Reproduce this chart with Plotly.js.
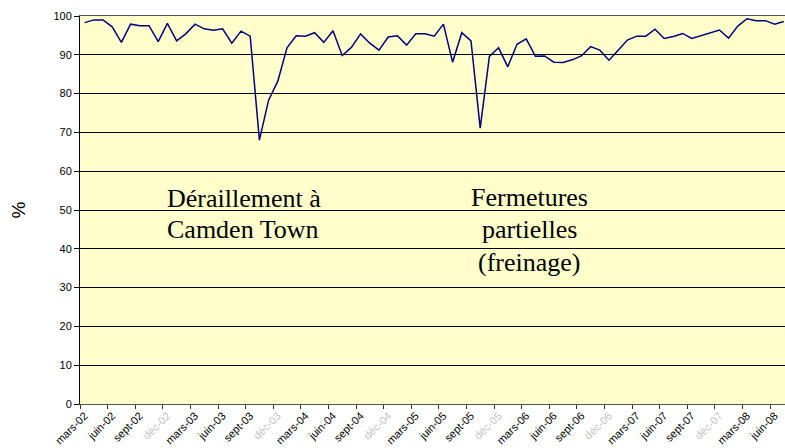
<!DOCTYPE html>
<html>
<head>
<meta charset="utf-8">
<script src="https://cdn.plot.ly/plotly-3.0.1.min.js"></script>
<style>html,body{margin:0;padding:0;background:#fff;overflow:hidden;}#chart{width:785px;height:448px;}</style>
</head>
<body>
<div id="chart"></div>
<script>
// Monthly categories (mars-02 .. juil-08, last visible)
const categories = [
  "mars-02","avr-02","mai-02","juin-02","juil-02","août-02","sept-02","oct-02","nov-02","déc-02","janv-03","févr-03",
  "mars-03","avr-03","mai-03","juin-03","juil-03","août-03","sept-03","oct-03","nov-03","déc-03","janv-04","févr-04",
  "mars-04","avr-04","mai-04","juin-04","juil-04","août-04","sept-04","oct-04","nov-04","déc-04","janv-05","févr-05",
  "mars-05","avr-05","mai-05","juin-05","juil-05","août-05","sept-05","oct-05","nov-05","déc-05","janv-06","févr-06",
  "mars-06","avr-06","mai-06","juin-06","juil-06","août-06","sept-06","oct-06","nov-06","déc-06","janv-07","févr-07",
  "mars-07","avr-07","mai-07","juin-07","juil-07","août-07","sept-07","oct-07","nov-07","déc-07","janv-08","févr-08",
  "mars-08","avr-08","mai-08","juin-08","juil-08"
];
// Percentage values
const values = [
  98.3, 99.0, 99.0, 97.2, 93.2, 97.9, 97.5, 97.5, 93.4, 98.1,
  93.6, 95.4, 97.9, 96.7, 96.3, 96.7, 93.0, 96.1, 94.8, 68.0,
  78.3, 83.2, 91.8, 94.9, 94.8, 95.7, 93.2, 96.2, 89.8, 91.9,
  95.4, 93.0, 91.2, 94.6, 94.9, 92.5, 95.4, 95.4, 94.8, 97.9,
  88.1, 95.7, 93.6, 71.1, 89.6, 91.8, 86.9, 92.7, 94.1, 89.6,
  89.7, 88.1, 88.0, 88.7, 89.7, 92.1, 91.2, 88.6, 91.2, 93.8,
  94.8, 94.8, 96.6, 94.2, 94.7, 95.5, 94.2, 94.9, 95.7, 96.4,
  94.3, 97.4, 99.3, 98.8, 98.8, 97.9, 98.6
];
// Tick labels shown every 3 months (déc labels are blurred in the source)
const tickLabels = ["mars-02","juin-02","sept-02","déc-02","mars-03","juin-03","sept-03","déc-03",
  "mars-04","juin-04","sept-04","déc-04","mars-05","juin-05","sept-05","déc-05",
  "mars-06","juin-06","sept-06","déc-06","mars-07","juin-07","sept-07","déc-07","mars-08","juin-08"];
const blurred = ["déc-02","déc-03","déc-04","déc-05","déc-06","déc-07"];
const yTicks = [0,10,20,30,40,50,60,70,80,90,100];

const xIdx = categories.map((_, i) => i);
const tickVals = tickLabels.map(l => categories.indexOf(l));
const tickText = tickLabels.map(l => blurred.includes(l) ? '<span style="color:#c4c4c4">' + l + '</span>' : l);

const trace = {
  x: xIdx, y: values, type: 'scatter', mode: 'lines',
  line: {color: '#000080', width: 1.5},
  hoverinfo: 'skip', cliponaxis: true
};

const serif = {family: 'Liberation Serif, Times New Roman, serif', size: 26, color: '#000'};

const layout = {
  width: 785, height: 448,
  margin: {l: 80, r: 0, t: 16, b: 44, pad: 0},
  paper_bgcolor: '#ffffff',
  plot_bgcolor: '#FFFFCC',
  showlegend: false,
  font: {family: 'Liberation Sans, Arial, sans-serif', color: '#000'},
  xaxis: {
    range: [-0.5, 76.13],
    tickmode: 'array', tickvals: tickVals, ticktext: tickText,
    tickangle: -45, tickfont: {size: 11, family: 'Liberation Sans, Arial, sans-serif'},
    ticks: '', showgrid: false, zeroline: false,
    showline: true, linecolor: '#555555', linewidth: 1, mirror: true,
    minor: {tickmode: 'linear', tick0: -0.5, dtick: 3, ticks: 'outside', ticklen: 4, tickcolor: '#333', showgrid: false},
    fixedrange: true
  },
  yaxis: {
    range: [0, 100],
    tickmode: 'array', tickvals: yTicks,
    tickfont: {size: 11, family: 'Liberation Sans, Arial, sans-serif'},
    ticks: 'outside', ticklen: 5, tickcolor: '#000',
    showgrid: true, gridcolor: '#000000', gridwidth: 1,
    zeroline: false, showline: true, linecolor: '#000', linewidth: 1,
    title: {text: '%', font: {size: 19, family: 'Liberation Sans, Arial, sans-serif'}, standoff: 22},
    fixedrange: true
  },
  annotations: [
    {text: 'Déraillement à', xref: 'paper', yref: 'y', x: 0.1206, y: 53.0, xanchor: 'left', yanchor: 'middle', showarrow: false, font: serif},
    {text: 'Camden Town', xref: 'paper', yref: 'y', x: 0.1206, y: 45.0, xanchor: 'left', yanchor: 'middle', showarrow: false, font: serif},
    {text: 'Fermetures', xref: 'paper', yref: 'y', x: 0.6369, y: 53.3, xanchor: 'center', yanchor: 'middle', showarrow: false, font: serif},
    {text: 'partielles', xref: 'paper', yref: 'y', x: 0.6369, y: 45.0, xanchor: 'center', yanchor: 'middle', showarrow: false, font: serif},
    {text: '(freinage)', xref: 'paper', yref: 'y', x: 0.6369, y: 36.5, xanchor: 'center', yanchor: 'middle', showarrow: false, font: serif}
  ]
};

Plotly.newPlot('chart', [trace], layout, {displayModeBar: false, staticPlot: true});
</script>
</body>
</html>
